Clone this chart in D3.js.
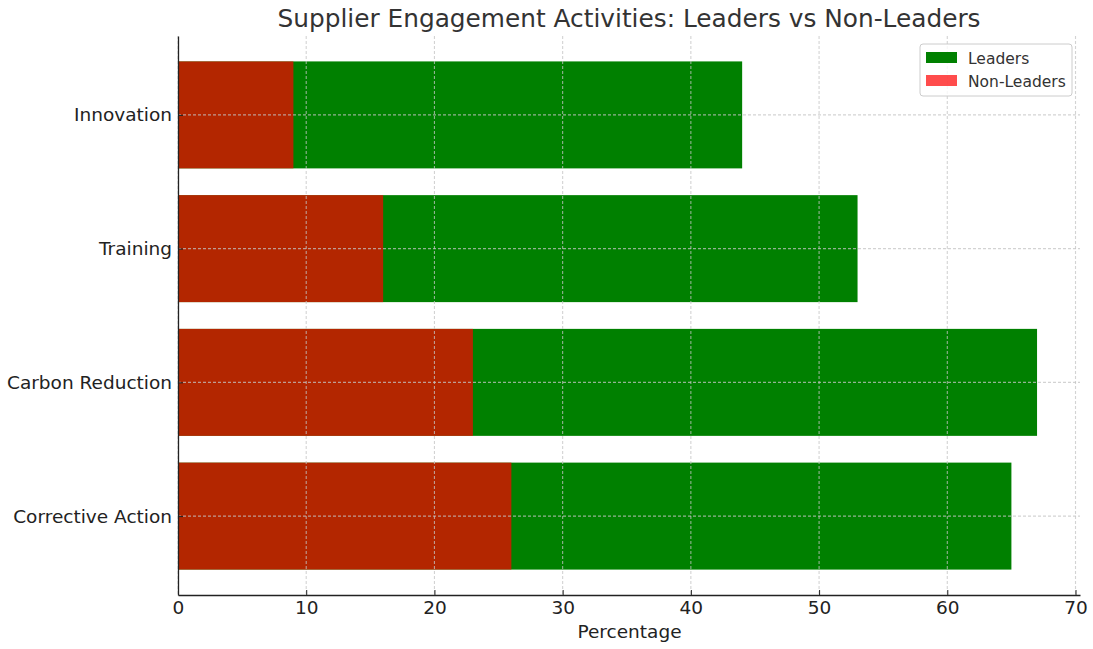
<!DOCTYPE html>
<html>
<head>
<meta charset="utf-8">
<script src="https://cdn.jsdelivr.net/npm/d3@7"></script>
<style>
body { margin: 0; background: #fff; }
text { font-family: "DejaVu Sans", sans-serif; }
</style>
</head>
<body>
<svg id="chart"></svg>
<script>
const categories = ["Corrective Action", "Carbon Reduction", "Training", "Innovation"];
const leaders = [65, 67, 53, 44];
const nonLeaders = [26, 23, 16, 9];
const xTicks = [0, 10, 20, 30, 40, 50, 60, 70];

const width = 1093, height = 649;
const plotLeft = 178, plotRight = 1080, plotTop = 36, plotBottom = 595;

const svg = d3.select("#chart")
.attr("width", width)
.attr("height", height);

const x = d3.scaleLinear().domain([0, 70.35]).range([plotLeft, plotRight]);
const y = d3.scaleLinear().domain([-0.59, 3.59]).range([plotBottom, plotTop]);
const bandH = y(0) - y(0.8);

// leaders bars
svg.selectAll(".lead")
.data(leaders)
.enter()
.append("rect")
.attr("x", x(0))
.attr("y", (d, i) => y(i + 0.4))
.attr("width", d => x(d) - x(0))
.attr("height", bandH)
.style("fill", "green");

// non-leaders drawn over them, semi transparent
svg.selectAll(".non")
.data(nonLeaders)
.enter()
.append("rect")
.attr("x", x(0))
.attr("y", (d, i) => y(i + 0.4))
.attr("width", d => x(d) - x(0))
.attr("height", bandH)
.style("fill", "red")
.style("fill-opacity", 0.7);

// grid
const grid = svg.append("g")
.style("stroke", "#c4c4c4")
.style("stroke-opacity", 0.75)
.style("stroke-dasharray", "3,2")
.style("stroke-width", 1.1);
grid.selectAll(".gx")
.data(xTicks)
.enter()
.append("line")
.attr("x1", d => x(d)).attr("x2", d => x(d))
.attr("y1", plotTop).attr("y2", plotBottom);
grid.selectAll(".gy")
.data(categories)
.enter()
.append("line")
.attr("x1", plotLeft).attr("x2", plotRight)
.attr("y1", (d, i) => y(i)).attr("y2", (d, i) => y(i));

// axes, ticks pointing inward
const xAxis = d3.axisBottom(x).tickValues(xTicks)
.tickSizeInner(-5).tickSizeOuter(0).tickPadding(6);
const gx = svg.append("g")
.attr("transform", "translate(0," + plotBottom + ")")
.call(xAxis);
gx.select(".domain").attr("stroke", "#222").attr("stroke-width", 1.3);
gx.selectAll(".tick line").attr("stroke", "#222").attr("stroke-width", 1);
gx.selectAll(".tick text").style("font-size", "18.5px").style("fill", "#222");

const yAxis = d3.axisLeft(y).tickValues([0, 1, 2, 3])
.tickFormat(d => categories[d])
.tickSizeInner(-5).tickSizeOuter(0).tickPadding(6);
const gy = svg.append("g")
.attr("transform", "translate(" + plotLeft + ",0)")
.call(yAxis);
gy.select(".domain").attr("stroke", "#222").attr("stroke-width", 1.3);
gy.selectAll(".tick line").attr("stroke", "#222").attr("stroke-width", 1);
gy.selectAll(".tick text").style("font-size", "18.5px").style("fill", "#222");

// labels
svg.append("text")
.attr("x", (plotLeft + plotRight) / 2 + 0.5)
.attr("y", 638)
.attr("text-anchor", "middle")
.style("font-size", "18.5px")
.style("fill", "#222")
.text("Percentage");

svg.append("text")
.attr("x", (plotLeft + plotRight) / 2)
.attr("y", 27)
.attr("text-anchor", "middle")
.style("font-size", "24.8px")
.style("fill", "#333")
.text("Supplier Engagement Activities: Leaders vs Non-Leaders");

// legend
const legend = svg.append("g").attr("transform", "translate(920,44)");
legend.append("rect")
.attr("width", 152).attr("height", 52)
.attr("rx", 3)
.style("fill", "#fff").style("fill-opacity", 0.8)
.style("stroke", "#ccc");
const legendItems = [
{name: "Leaders", color: "green", op: 1},
{name: "Non-Leaders", color: "red", op: 0.7},
];
legendItems.forEach((d, i) => {
    legend.append("rect")
        .attr("x", 6).attr("y", 8 + i * 23)
        .attr("width", 31).attr("height", 11)
        .style("fill", d.color).style("fill-opacity", d.op);
    legend.append("text")
        .attr("x", 48).attr("y", 19.5 + i * 23)
        .style("font-size", "15.5px")
        .style("fill", "#333")
        .text(d.name);
});
</script>
</body>
</html>
